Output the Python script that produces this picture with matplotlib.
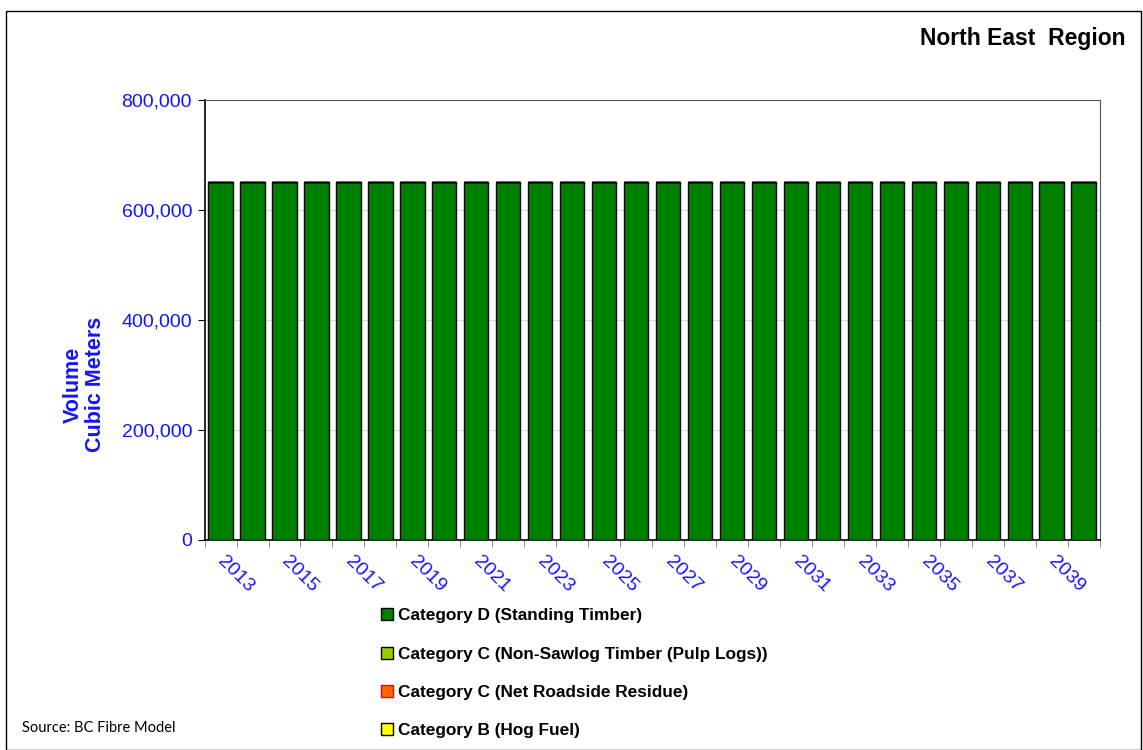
import matplotlib.pyplot as plt
import matplotlib.patches as mpatches
import matplotlib.transforms as mtransforms
import numpy as np

plt.rcParams['font.family'] = ['Liberation Sans', 'DejaVu Sans']

# data
years = [2013, 2014, 2015, 2016, 2017, 2018, 2019, 2020, 2021, 2022,
         2023, 2024, 2025, 2026, 2027, 2028, 2029, 2030, 2031, 2032,
         2033, 2034, 2035, 2036, 2037, 2038, 2039, 2040]
standing_timber = [650000, 650000, 650000, 650000, 650000, 650000, 650000,
                   650000, 650000, 650000, 650000, 650000, 650000, 650000,
                   650000, 650000, 650000, 650000, 650000, 650000, 650000,
                   650000, 650000, 650000, 650000, 650000, 650000, 650000]
pulp_logs = [0, 0, 0, 0, 0, 0, 0, 0, 0, 0, 0, 0, 0, 0,
             0, 0, 0, 0, 0, 0, 0, 0, 0, 0, 0, 0, 0, 0]
roadside_residue = [0, 0, 0, 0, 0, 0, 0, 0, 0, 0, 0, 0, 0, 0,
                    0, 0, 0, 0, 0, 0, 0, 0, 0, 0, 0, 0, 0, 0]
hog_fuel = [0, 0, 0, 0, 0, 0, 0, 0, 0, 0, 0, 0, 0, 0,
            0, 0, 0, 0, 0, 0, 0, 0, 0, 0, 0, 0, 0, 0]

series = [
    ('Category D (Standing Timber)', standing_timber, '#008000', 'black'),
    ('Category C (Non-Sawlog Timber (Pulp Logs))', pulp_logs, '#99CC00', 'black'),
    ('Category C (Net Roadside Residue)', roadside_residue, '#FF6600', 'red'),
    ('Category B (Hog Fuel)', hog_fuel, '#FFFF00', 'black'),
]

blue = '#1414FF'

fig = plt.figure(figsize=(11.43, 7.5), dpi=100)
ax = fig.add_axes([0.179, 0.28, 0.783, 0.5867])

x = np.arange(len(years))
bottom = np.zeros(len(years))
handles = []
for label, vals, color, edge in series:
    vals = np.array(vals, dtype=float)
    ax.bar(x, vals, width=0.76, bottom=bottom, color=color,
           edgecolor='black', linewidth=1.0, zorder=3)
    bottom += vals
    handles.append(mpatches.Patch(facecolor=color, edgecolor=edge,
                                  linewidth=1.0, label=label))

ax.set_xlim(-0.5, len(years) - 0.5)
ax.set_ylim(0, 800000)
ax.set_yticks([0, 200000, 400000, 600000, 800000])
ax.set_yticklabels(['{:,}'.format(v) for v in [0, 200000, 400000, 600000, 800000]])
ax.yaxis.grid(True, color='#D9D9D9', linewidth=0.8, zorder=0)
ax.tick_params(axis='y', colors='black', labelcolor=blue, labelsize=14,
               direction='out', length=5, pad=4)

# labels on every other year, ticks between bars
ax.set_xticks(x[::2])
ax.set_xticklabels([str(y) for y in years[::2]], rotation=-45,
                   ha='left', va='top', rotation_mode='anchor')
ax.tick_params(axis='x', which='major', length=0, labelcolor=blue,
               labelsize=14, pad=9)
shift = mtransforms.ScaledTranslation(6 / 100, 0, fig.dpi_scale_trans)
for lbl in ax.get_xticklabels():
    lbl.set_transform(lbl.get_transform() + shift)
ax.set_xticks(np.arange(-0.5, len(years)), minor=True)
ax.tick_params(axis='x', which='minor', length=5, color='#7F7F7F')

for side in ['left', 'bottom']:
    ax.spines[side].set_color('black')
    ax.spines[side].set_linewidth(1.2)
ax.spines['top'].set_color('#555555')
ax.spines['right'].set_color('#555555')

fig.text(0.074, 0.487, 'Volume\nCubic Meters', rotation=90, color=blue,
         fontsize=15.5, fontweight='bold', ha='center', va='center',
         multialignment='center', linespacing=1.1)

fig.text(0.985, 0.948, 'North East  Region', fontsize=16.5, fontweight='bold',
         ha='right', va='center')

fig.text(0.019, 0.030, 'Source: BC Fibre Model', fontsize=10.5,
         family=['Lato', 'DejaVu Sans'], ha='left', va='center')

leg = fig.legend(handles=handles, loc='upper left',
                 bbox_to_anchor=(0.327, 0.198), frameon=False,
                 prop={'weight': 'bold', 'size': 12.4},
                 handlelength=0.7, handleheight=0.7, handletextpad=0.3,
                 labelspacing=1.35, borderaxespad=0)

fig.patches.append(mpatches.Rectangle((0.005, 0.0), 0.993, 0.985,
                                      transform=fig.transFigure, fill=False,
                                      edgecolor='black', linewidth=1.0))

fig.savefig('out.png', dpi=100)
